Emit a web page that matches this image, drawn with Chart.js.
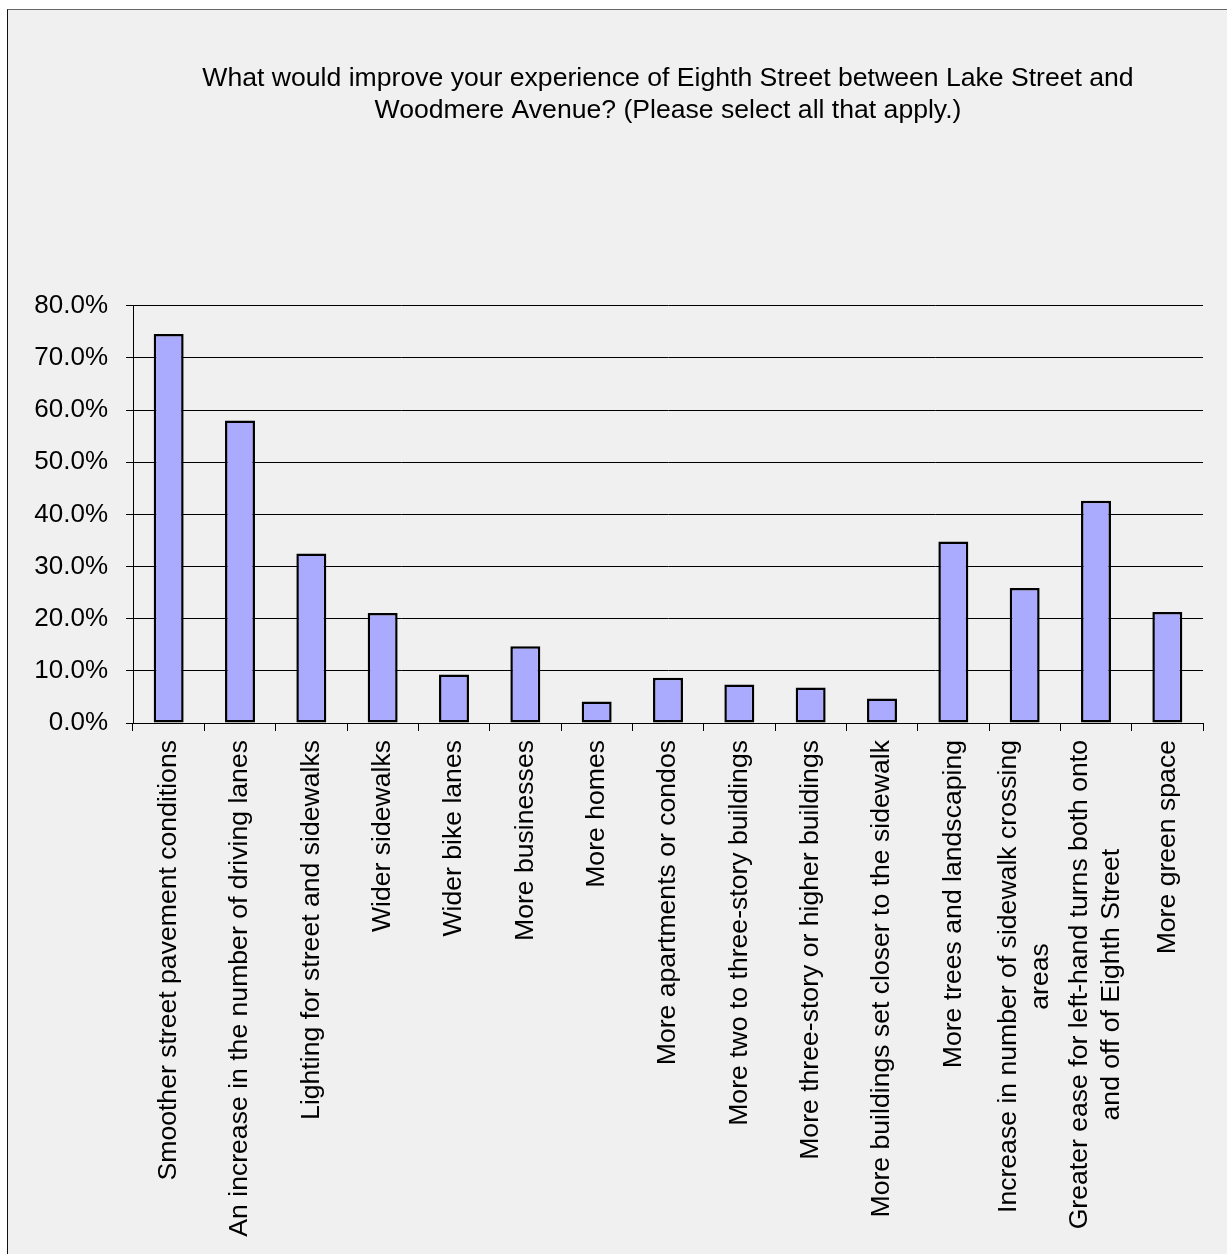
<!DOCTYPE html>
<html>
<head>
<meta charset="utf-8">
<title>Eighth Street survey</title>
<script src="https://cdn.jsdelivr.net/npm/chart.js@4/dist/chart.umd.min.js"></script>
<style>
    html, body { margin: 0; padding: 0; background: #ffffff; }
    #frame {
        position: absolute;
        left: 7px;
        top: 9px;
        width: 1220px;
        height: 1245px;
        background: #f0f0f0;
        border-top: 1px solid #666666;
        border-left: 1px solid #111111;
    }
    #grafico { display: block; }
</style>
</head>
<body>
<div id="frame">
    <canvas id="grafico" width="1219" height="1244"></canvas>
</div>
<script>
// respuestas de la encuesta (porcentaje de encuestados)
const categorias = [
    'Smoother street pavement conditions',
    'An increase in the number of driving lanes',
    'Lighting for street and sidewalks',
    'Wider sidewalks',
    'Wider bike lanes',
    'More businesses',
    'More homes',
    'More apartments or condos',
    'More two to three-story buildings',
    'More three-story or higher buildings',
    'More buildings set closer to the sidewalk',
    'More trees and landscaping',
    ['Increase in number of sidewalk crossing', 'areas'],
    ['Greater ease for left-hand turns both onto', 'and off of Eighth Street'],
    'More green space'
];
const porcentajes = [74.6, 58.0, 32.5, 21.1, 9.3, 14.7, 4.1, 8.7, 7.4, 6.8, 4.7, 34.8, 25.9, 42.6, 21.3];
const ticksY = [0, 10, 20, 30, 40, 50, 60, 70, 80];

const titulo = [
    'What would improve your experience of Eighth Street between Lake Street and',
    'Woodmere Avenue? (Please select all that apply.)'
];

const fuente = "'Liberation Sans', Arial, sans-serif";

// etiquetas del eje X giradas, cada línea centrada dentro del bloque
const etiquetasX = {
    id: 'etiquetasX',
    afterDraw(chart) {
        const ctx = chart.ctx;
        const x = chart.scales.x;
        const alto = 32;
        ctx.save();
        ctx.font = '26.6px ' + fuente;
        ctx.fillStyle = '#000000';
        ctx.textAlign = 'center';
        ctx.textBaseline = 'middle';
        categorias.forEach((cat, i) => {
            const lineas = Array.isArray(cat) ? cat : [cat];
            const ancho = Math.max(...lineas.map(l => ctx.measureText(l).width));
            const px = x.getPixelForValue(i);
            ctx.save();
            ctx.translate(px, x.top + 17);
            ctx.rotate(-Math.PI / 2);
            lineas.forEach((l, j) => {
                ctx.fillText(l, -ancho / 2, (j - (lineas.length - 1) / 2) * alto);
            });
            ctx.restore();
        });
        ctx.restore();
    }
};

document.addEventListener('DOMContentLoaded', () => {
    const ctx = document.getElementById('grafico').getContext('2d');

    new Chart(ctx, {
        type: 'bar',
        data: {
            labels: categorias,
            datasets: [{
                data: porcentajes,
                backgroundColor: '#aaaaff',
                borderColor: '#000000',
                borderWidth: 2.5,
                borderSkipped: false,
                barPercentage: 0.42,
                categoryPercentage: 1
            }]
        },
        options: {
            responsive: false,
            animation: false,
            layout: { padding: { left: 0, right: 24, top: 0, bottom: 0 } },
            plugins: {
                legend: { display: false },
                tooltip: { enabled: false },
                title: {
                    display: true,
                    fullSize: false,
                    text: titulo,
                    color: '#000000',
                    font: { family: fuente, size: 26.6, weight: 'normal', lineHeight: 1.2 },
                    padding: { top: 53, bottom: 179 }
                }
            },
            scales: {
                x: {
                    afterFit: (s) => { s.height = 531; },
                    grid: {
                        display: true,
                        offset: true,
                        drawOnChartArea: false,
                        drawTicks: true,
                        tickLength: 8,
                        color: '#000000'
                    },
                    border: { display: true, color: '#000000', width: 1 },
                    ticks: { display: false }
                },
                y: {
                    min: 0,
                    max: 80,
                    afterFit: (s) => { s.width = 125; },
                    afterBuildTicks: (s) => { s.ticks = ticksY.map(v => ({ value: v })); },
                    grid: {
                        color: '#000000',
                        lineWidth: 1,
                        tickLength: 7
                    },
                    border: { display: true, color: '#000000', width: 1 },
                    ticks: {
                        padding: 18,
                        color: '#000000',
                        font: { family: fuente, size: 26 },
                        callback: (v) => v.toFixed(1) + '%'
                    }
                }
            }
        },
        plugins: [etiquetasX]
    });
});
</script>
</body>
</html>
